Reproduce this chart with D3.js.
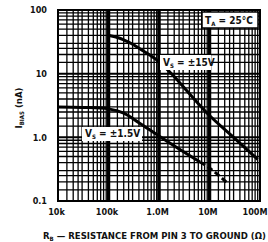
<!DOCTYPE html>
<html>
<head>
<meta charset="utf-8">
<script src="https://cdn.jsdelivr.net/npm/d3@7"></script>
<style>
body{margin:0;background:#fff;}
text{font-family:"Liberation Sans Narrow","DejaVu Sans Condensed",sans-serif;font-weight:bold;fill:#111;}
</style>
</head>
<body>
<div id="chart"></div>
<script>
// tick values / labels
var xTicks = [1e4, 1e5, 1e6, 1e7, 1e8];
var xTickLabels = ["10k", "100k", "1.0M", "10M", "100M"];
var yTicks = [0.1, 1, 10, 100];
var yTickLabels = ["0.1", "1.0", "10", "100"];
var minorSteps = [1.5, 2, 2.5, 3, 4, 5, 6, 7, 8, 9];

// Vs = +-15V
var r15 = [1e5, 1.5e5, 2e5, 3e5, 5e5, 7e5, 1e6, 2e6, 3e6, 1e7, 3e7, 9e7];
var i15 = [40, 37, 34, 29, 22.5, 19, 15.5, 9, 6.3, 2.2, 1.0, 0.45];
// Vs = +-1.5V (solid part, then dashed part)
var r15b = [1e4, 3e4, 1e5, 2e5, 4e5, 1e6, 3e6, 6.5e6];
var i15b = [3.0, 2.95, 2.8, 2.4, 1.7, 1.05, 0.6, 0.41];
var r15bDash = [6.5e6, 1e7, 2.3e7];
var i15bDash = [0.41, 0.33, 0.19];

var W = 268, H = 242;
var m = {l: 58, r: 260, t: 10, b: 201};

var svg = d3.select("#chart").append("svg")
    .attr("width", W)
    .attr("height", H);

var x = d3.scaleLog().domain([1e4, 1e8]).range([m.l, m.r]);
var y = d3.scaleLog().domain([0.1, 100]).range([m.b, m.t]);

// minor grid
var xMinor = [], yMinor = [];
xTicks.slice(0, -1).forEach(function(d){ minorSteps.forEach(function(s){ xMinor.push(d * s); }); });
yTicks.slice(0, -1).forEach(function(d){ minorSteps.forEach(function(s){ yMinor.push(d * s); }); });

var grid = svg.append("g");
grid.selectAll(".vx").data(xMinor).enter().append("line")
    .attr("x1", function(d){ return x(d); }).attr("x2", function(d){ return x(d); })
    .attr("y1", m.t).attr("y2", m.b)
    .attr("stroke", "#000").attr("stroke-width", 1.3);
grid.selectAll(".hy").data(yMinor).enter().append("line")
    .attr("x1", m.l).attr("x2", m.r)
    .attr("y1", function(d){ return y(d); }).attr("y2", function(d){ return y(d); })
    .attr("stroke", "#000").attr("stroke-width", 1.3);
// decade lines
grid.selectAll(".vd").data(xTicks.slice(1, -1)).enter().append("line")
    .attr("x1", function(d){ return x(d); }).attr("x2", function(d){ return x(d); })
    .attr("y1", m.t).attr("y2", m.b)
    .attr("stroke", "#000").attr("stroke-width", 3.5);
grid.selectAll(".hd").data(yTicks.slice(1, -1)).enter().append("line")
    .attr("x1", m.l).attr("x2", m.r)
    .attr("y1", function(d){ return y(d); }).attr("y2", function(d){ return y(d); })
    .attr("stroke", "#000").attr("stroke-width", 2);

// frame
svg.append("rect")
    .attr("x", m.l).attr("y", m.t)
    .attr("width", m.r - m.l).attr("height", m.b - m.t)
    .attr("fill", "none").attr("stroke", "#000").attr("stroke-width", 2);

// axes labels via d3 axes (no domain / tick lines)
var xAxis = d3.axisBottom(x).tickValues(xTicks)
    .tickFormat(function(d, i){ return xTickLabels[i]; }).tickSize(0).tickPadding(8);
var gx = svg.append("g").attr("transform", "translate(0," + m.b + ")").call(xAxis);
gx.select(".domain").remove();
gx.selectAll("text").attr("font-size", 9).attr("dx", -2).attr("font-family", null);
// last label kept inside the page edge
gx.selectAll("text").filter(function(d){ return d === 1e8; })
    .attr("text-anchor", "end").attr("dx", W - 1 - m.r);

var yAxis = d3.axisLeft(y).tickValues(yTicks)
    .tickFormat(function(d, i){ return yTickLabels[i]; }).tickSize(0).tickPadding(11);
var gy = svg.append("g").attr("transform", "translate(" + m.l + ",0)").call(yAxis);
gy.select(".domain").remove();
gy.selectAll("text").attr("font-size", 9).attr("font-family", null);

// curves
var line = d3.line()
    .x(function(d){ return x(d[0]); })
    .y(function(d){ return y(d[1]); })
    .curve(d3.curveCatmullRom.alpha(0.5));

svg.append("path").datum(d3.zip(r15, i15)).attr("d", line)
    .attr("fill", "none").attr("stroke", "#000").attr("stroke-width", 3);
svg.append("path").datum(d3.zip(r15b, i15b)).attr("d", line)
    .attr("fill", "none").attr("stroke", "#000").attr("stroke-width", 3);
svg.append("path").datum(d3.zip(r15bDash, i15bDash)).attr("d", line)
    .attr("fill", "none").attr("stroke", "#000").attr("stroke-width", 3)
    .attr("stroke-dasharray", "6,3");

// label boxes
function label(bx, by, bw, bh, main, sub, rest, border){
    svg.append("rect").attr("x", bx).attr("y", by).attr("width", bw).attr("height", bh)
        .attr("fill", "#fff").attr("stroke", border ? "#000" : "none").attr("stroke-width", 1.5);
    var t = svg.append("text").attr("x", bx + 3).attr("y", by + bh - 4).attr("font-size", 10);
    t.append("tspan").text(main);
    t.append("tspan").attr("font-size", 6).attr("dy", 2).text(sub);
    t.append("tspan").attr("dy", -2).text(rest);
}
label(202, 12, 56, 16, "T", "A", " = 25°C", true);
label(160, 55, 51, 15, "V", "S", " = ±15V", false);
label(82, 127, 60, 14, "V", "S", " = ±1.5V", false);

// axis titles
var xt = svg.append("text").attr("x", 43).attr("y", 239).attr("font-size", 9.5);
xt.append("tspan").text("R");
xt.append("tspan").attr("font-size", 6).attr("dy", 2).text("B");
xt.append("tspan").attr("dy", -2).text(" — RESISTANCE FROM PIN 3 TO GROUND (Ω)");

var yt = svg.append("text").attr("transform", "translate(22,108) rotate(-90)")
    .attr("text-anchor", "middle").attr("font-size", 9.5);
yt.append("tspan").text("I");
yt.append("tspan").attr("font-size", 6).attr("dy", 2).text("BIAS");
yt.append("tspan").attr("dy", -2).text(" (nA)");
</script>
</body>
</html>
